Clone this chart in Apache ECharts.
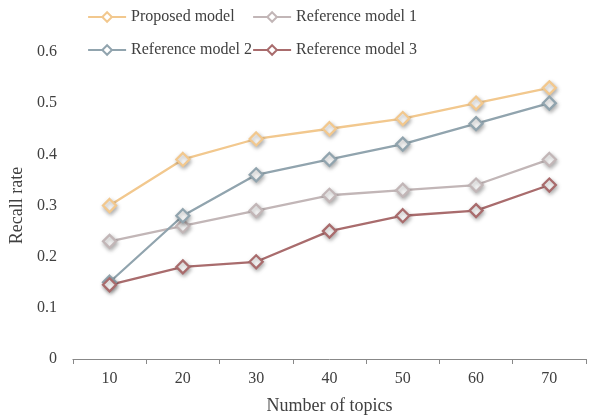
<!DOCTYPE html>
<html><head><meta charset="utf-8">
<script src="https://cdn.jsdelivr.net/npm/echarts@6/dist/echarts.min.js"></script>
<style>html,body{margin:0;padding:0;background:#fff}#c{width:589px;height:420px}</style>
</head><body><div id="c"></div>
<script>
const categories = ['10','20','30','40','50','60','70'];
const proposed = [0.30, 0.39, 0.43, 0.45, 0.47, 0.50, 0.53];
const ref1 = [0.23, 0.26, 0.29, 0.32, 0.33, 0.34, 0.39];
const ref2 = [0.15, 0.28, 0.36, 0.39, 0.42, 0.46, 0.50];
const ref3 = [0.145, 0.18, 0.19, 0.25, 0.28, 0.29, 0.34];
const names = ['Proposed model','Reference model 1','Reference model 2','Reference model 3'];
const colors = ['#F2C88E','#C2B6B7','#91A4AE','#A96C6D'];
const font = 'Liberation Serif';
const chart = echarts.init(document.getElementById('c'), null, {renderer:'canvas'});
function mk(name, data, color){
  return {name, type:'line', data, symbol:'diamond', symbolSize:13,
    lineStyle:{color, width:2.3},
    itemStyle:{color:'#fff', borderColor:color, borderWidth:2.3, shadowColor:'rgba(0,0,0,0.3)', shadowBlur:4, shadowOffsetX:1, shadowOffsetY:2},
    emphasis:{disabled:true}};
}
const legendBase = {orient:'vertical', itemWidth:38, itemHeight:12, itemGap:17, top:4,
  textStyle:{fontFamily:font, fontSize:16, color:'#404040'},
  lineStyle:{width:2.2},
  itemStyle:{shadowBlur:0, shadowOffsetX:0, shadowOffsetY:0, borderWidth:2}};
chart.setOption({
  animation:false,
  color: colors,
  grid:{left:68, right:3, top:52, bottom:57},
  legend:[
    Object.assign({}, legendBase, {left:82, data:[names[0], names[2]]}),
    Object.assign({}, legendBase, {left:247, data:[names[1], names[3]]})
  ],
  xAxis:{type:'category', data:categories, boundaryGap:true,
    name:'Number of topics', nameLocation:'middle', nameGap:38,
    nameTextStyle:{fontFamily:font, fontSize:18, color:'#404040'},
    axisLine:{lineStyle:{color:'#888', width:1}},
    axisTick:{show:true, length:5, lineStyle:{color:'#888'}},
    axisLabel:{fontFamily:font, fontSize:16, color:'#404040', margin:12}},
  yAxis:{type:'value', min:0, max:0.6, interval:0.1,
    name:'Recall rate', nameLocation:'middle', nameGap:43,
    nameTextStyle:{fontFamily:font, fontSize:18, color:'#404040'},
    axisLine:{show:false}, axisTick:{show:false}, splitLine:{show:false},
    axisLabel:{fontFamily:font, fontSize:16, color:'#404040', margin:16,
      formatter: v => v===0 ? '0' : String(+v.toFixed(1))}},
  series:[mk(names[0],proposed,colors[0]), mk(names[1],ref1,colors[1]), mk(names[2],ref2,colors[2]), mk(names[3],ref3,colors[3])]
});
</script></body></html>
